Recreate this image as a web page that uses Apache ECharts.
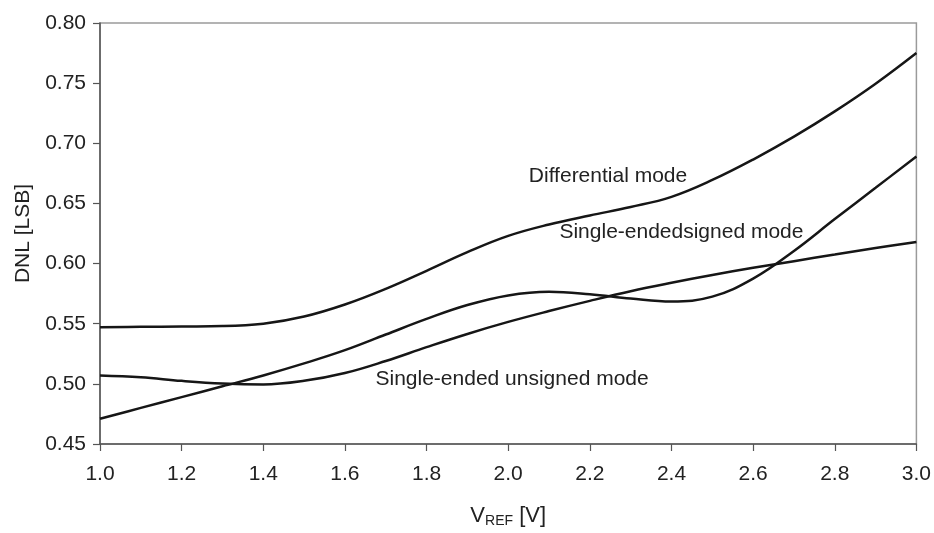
<!DOCTYPE html>
<html>
<head>
<meta charset="utf-8">
<script src="https://cdn.jsdelivr.net/npm/echarts@6/dist/echarts.min.js"></script>
<style>
  html, body { margin: 0; padding: 0; background: #fff; }
  #chart { width: 934px; height: 533px; }
</style>
</head>
<body>
<div id="chart"></div>
<script>
// Reference voltage sweep (V)
const vref = [1.0, 1.1, 1.2, 1.3, 1.4, 1.5, 1.6, 1.7, 1.8, 1.9, 2.0,
              2.1, 2.2, 2.3, 2.4, 2.5, 2.6, 2.7, 2.8, 2.9, 3.0];

// DNL in LSB for each input mode
const differential = [0.547, 0.5474, 0.5477, 0.548, 0.550, 0.556, 0.566, 0.579, 0.594, 0.6095, 0.623,
                      0.6325, 0.640, 0.647, 0.6555, 0.6695, 0.6865, 0.7055, 0.7265, 0.7495, 0.775];
const singleEndedSigned = [0.471, 0.480, 0.489, 0.498, 0.507, 0.517, 0.528, 0.541, 0.554, 0.5655, 0.5735,
                           0.5765, 0.5745, 0.571, 0.5685, 0.5725, 0.5875, 0.6105, 0.637, 0.663, 0.689];
const singleEndedUnsigned = [0.507, 0.5055, 0.5025, 0.5003, 0.4995, 0.5025, 0.509, 0.519, 0.5305, 0.5415, 0.5515,
                             0.5605, 0.569, 0.577, 0.584, 0.5905, 0.5965, 0.602, 0.6075, 0.613, 0.618];

// In-plot curve captions, anchored in data space
const captionText = ['Differential mode', 'Single-endedsigned mode', 'Single-ended unsigned mode'];
const captionX = [2.2445, 2.4244, 2.0095];
const captionY = [0.6726, 0.6264, 0.5036];

const xTicks = { min: 1.0, max: 3.0, step: 0.2 };
const yTicks = { min: 0.45, max: 0.80, step: 0.05 };

const chart = echarts.init(document.getElementById('chart'), null, { renderer: 'canvas' });

const toPairs = (ys) => vref.map((x, i) => [x, ys[i]]);
const lineStyle = { color: '#161616', width: 2.5 };
const mkSeries = (name, ys) => ({
  name, type: 'line', data: toPairs(ys), smooth: 0.4, showSymbol: false,
  symbol: 'none', lineStyle, silent: true
});

const axisFont = "'Liberation Sans', Arial, sans-serif";

chart.setOption({
  animation: false,
  backgroundColor: '#ffffff',
  grid: {
    left: 100, top: 23, right: 17, bottom: 86,
    show: true, borderColor: '#9a9a9a', borderWidth: 1.5, backgroundColor: 'transparent'
  },
  xAxis: {
    type: 'value', min: xTicks.min, max: xTicks.max, interval: xTicks.step,
    name: '{v|V}{s|REF}{v| [V]}', nameLocation: 'middle', nameGap: 60,
    nameTextStyle: {
      rich: {
        v: { fontFamily: axisFont, fontSize: 22, color: '#222' },
        s: { fontFamily: axisFont, fontSize: 14, color: '#222', padding: [10, 0, 0, 0] }
      }
    },
    axisLine: { show: true, lineStyle: { color: '#555', width: 1.5 } },
    axisTick: { show: true, length: 7, lineStyle: { color: '#555', width: 1.2 } },
    axisLabel: {
      margin: 20, fontFamily: axisFont, fontSize: 21, color: '#222',
      formatter: (v) => v.toFixed(1)
    },
    splitLine: { show: false }
  },
  yAxis: {
    type: 'value', min: yTicks.min, max: yTicks.max, interval: yTicks.step,
    name: 'DNL [LSB]', nameLocation: 'middle', nameGap: 66, nameRotate: 90,
    nameTextStyle: { fontFamily: axisFont, fontSize: 21, color: '#222' },
    axisLine: { show: true, lineStyle: { color: '#555', width: 1.5 } },
    axisTick: { show: true, length: 7, lineStyle: { color: '#555', width: 1.2 } },
    axisLabel: {
      margin: 14, fontFamily: axisFont, fontSize: 21, color: '#222',
      formatter: (v) => v.toFixed(2)
    },
    splitLine: { show: false }
  },
  series: [
    mkSeries('Differential mode', differential),
    mkSeries('Single-ended signed mode', singleEndedSigned),
    mkSeries('Single-ended unsigned mode', singleEndedUnsigned)
  ]
});

// Place the curve captions using the chart's own coordinate conversion
const graphics = captionText.map((t, i) => {
  const p = chart.convertToPixel({ gridIndex: 0 }, [captionX[i], captionY[i]]);
  return {
    type: 'text', x: p[0], y: p[1], silent: true,
    style: {
      text: t, fontFamily: axisFont, fontSize: 21, fill: '#222',
      textAlign: 'center', textVerticalAlign: 'middle'
    }
  };
});
chart.setOption({ graphic: graphics });
</script>
</body>
</html>
